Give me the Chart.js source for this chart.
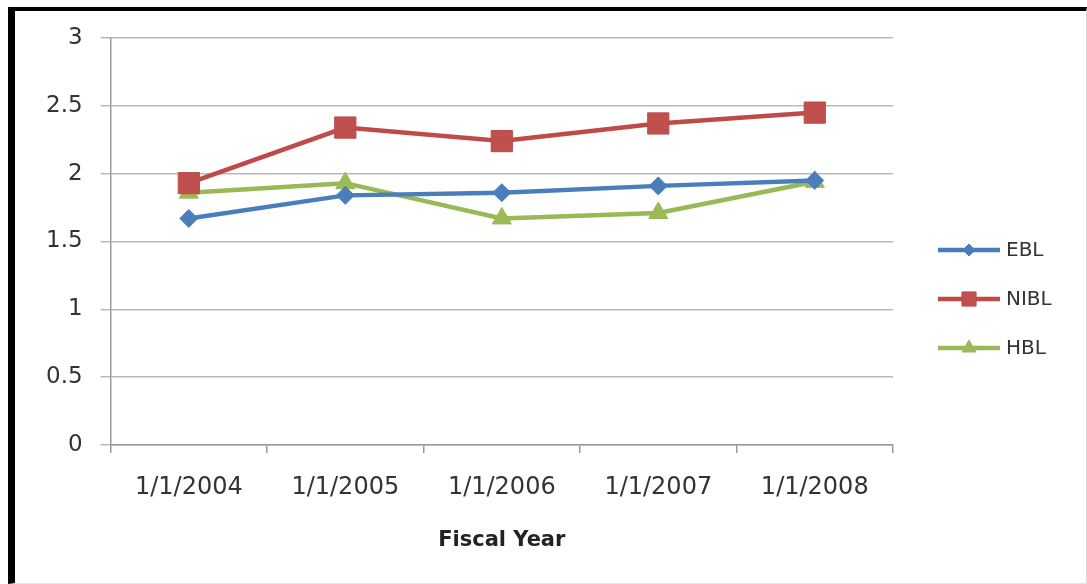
<!DOCTYPE html>
<html>
<head>
<meta charset="utf-8">
<script src="https://cdn.jsdelivr.net/npm/chart.js@4/dist/chart.umd.min.js"></script>
<style>
  html, body { margin: 0; padding: 0; background: #fff; }
  #wrap { position: absolute; left: 0; top: 0; width: 1087px; height: 584px; }
  #frame { position: absolute; left: 8px; top: 7px; width: 1079px; height: 577px; box-sizing: border-box;
           border-left: 7px solid #000; border-top: 4px solid #000; border-right: 1px solid #d8d8d8; border-bottom: 1px solid #e4e4e4; pointer-events: none; }
  canvas { position: absolute; left: 0; top: 0; }
</style>
</head>
<body>
<div id="wrap">
  <canvas id="c" width="1087" height="584"></canvas>
  <div id="frame"></div>
</div>
<script>
const categories = ['1/1/2004', '1/1/2005', '1/1/2006', '1/1/2007', '1/1/2008'];
const seriesNames = ['EBL', 'NIBL', 'HBL'];
const eblValues  = [1.67, 1.84, 1.86, 1.91, 1.95];
const niblValues = [1.93, 2.34, 2.24, 2.37, 2.45];
const hblValues  = [1.86, 1.93, 1.67, 1.71, 1.94];
const yTickValues = [0, 0.5, 1, 1.5, 2, 2.5, 3];
const xAxisTitle = 'Fiscal Year';

const FONT = "'DejaVu Sans', sans-serif";

const styles = [
  { color: '#4A7EBB', fill: '#4A7EBB', point: 'rectRot', r: 9, lr: 6 },
  { color: '#BE4B48', fill: '#C0504D', point: 'rect', r: 15, lr: 10 },
  { color: '#98B954', fill: '#9BBB59', point: 'triangle', r: 11, lr: 8 }
];
const values = [eblValues, niblValues, hblValues];

const datasets = seriesNames.map((name, i) => ({
  label: name,
  data: values[i],
  borderColor: styles[i].color,
  backgroundColor: styles[i].fill,
  borderWidth: 4.5,
  pointStyle: styles[i].point,
  pointRadius: styles[i].r,
  pointHoverRadius: styles[i].r,
  pointBackgroundColor: styles[i].fill,
  pointBorderColor: styles[i].color,
  pointBorderWidth: 1,
  tension: 0,
  fill: false
}));

// Legend drawn beside the plot (line + marker + label), Excel-style
const sideLegend = {
  id: 'sideLegend',
  afterDraw(chart) {
    const ctx = chart.ctx;
    const x0 = 938, x1 = 1000, tx = 1006;
    const rows = [250, 299, 348];
    chart.data.datasets.forEach((ds, i) => {
      const y = rows[i];
      ctx.save();
      ctx.strokeStyle = ds.borderColor;
      ctx.lineWidth = 4.5;
      ctx.beginPath();
      ctx.moveTo(x0, y);
      ctx.lineTo(x1, y);
      ctx.stroke();
      ctx.fillStyle = ds.pointBackgroundColor;
      ctx.strokeStyle = ds.pointBorderColor;
      ctx.lineWidth = 1;
      Chart.helpers.drawPoint(ctx, { pointStyle: ds.pointStyle, radius: styles[i].lr, rotation: 0, borderWidth: 1 }, (x0 + x1) / 2, y);
      ctx.fillStyle = '#333';
      ctx.font = '20px ' + FONT;
      ctx.textBaseline = 'middle';
      ctx.textAlign = 'left';
      ctx.fillText(ds.label, tx, y + 1);
      ctx.restore();
    });
  }
};

new Chart(document.getElementById('c'), {
  type: 'line',
  data: { labels: categories, datasets },
  plugins: [sideLegend],
  options: {
    responsive: false,
    animation: false,
    devicePixelRatio: 1,
    layout: { padding: { left: 28, right: 194, top: 38, bottom: 31 } },
    plugins: {
      legend: { display: false },
      tooltip: { enabled: false },
      title: { display: false }
    },
    scales: {
      x: {
        type: 'category',
        offset: true,
        grid: { display: true, offset: true, drawOnChartArea: false, drawTicks: true, tickLength: 8, color: '#9a9a9a', lineWidth: 1.5 },
        border: { display: true, color: '#9a9a9a', width: 1.5 },
        ticks: { color: '#333', font: { family: FONT, size: 24 }, padding: 20, maxRotation: 0, autoSkip: false },
        title: { display: true, text: xAxisTitle, color: '#222', font: { family: FONT, size: 21, weight: 'bold' }, padding: { top: 6, bottom: 0 } }
      },
      y: {
        min: 0,
        max: 3,
        afterBuildTicks(axis) { axis.ticks = yTickValues.map(v => ({ value: v })); },
        grid: { color: '#b8b8b8', lineWidth: 1.5, drawTicks: true, tickLength: 10 },
        border: { display: true, color: '#9a9a9a', width: 1.5 },
        ticks: { color: '#333', font: { family: FONT, size: 23 }, padding: 18, callback: v => String(v) }
      }
    }
  }
});
</script>
</body>
</html>
